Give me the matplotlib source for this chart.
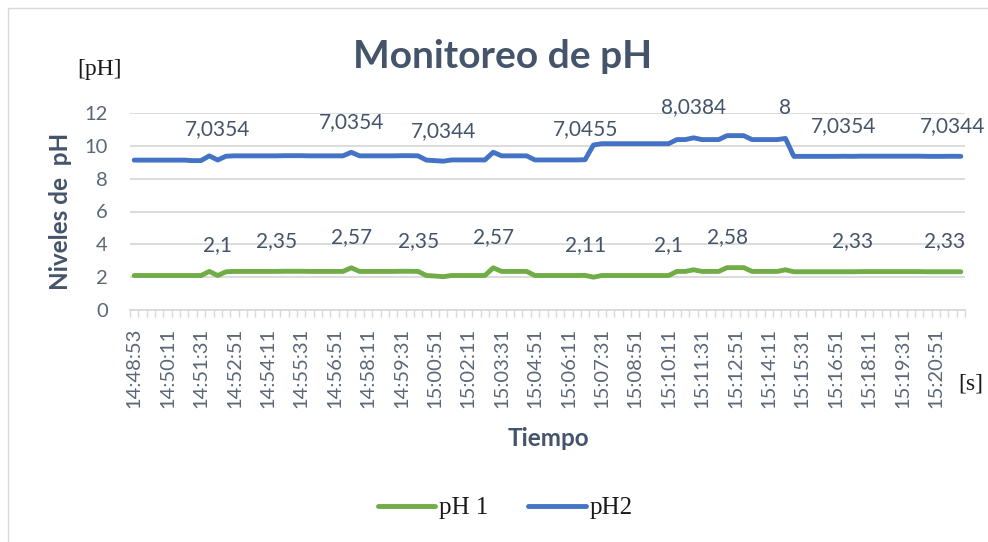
import numpy as np
import matplotlib.pyplot as plt
from matplotlib.lines import Line2D

# readings every 20 s (first one at 14:48:53), only every 4th time is labelled
tick_labels = [
    "14:48:53", "14:50:11", "14:51:31", "14:52:51", "14:54:11", "14:55:31",
    "14:56:51", "14:58:11", "14:59:31", "15:00:51", "15:02:11", "15:03:31",
    "15:04:51", "15:06:11", "15:07:31", "15:08:51", "15:10:11", "15:11:31",
    "15:12:51", "15:14:11", "15:15:31", "15:16:51", "15:18:11", "15:19:31",
    "15:20:51",
]

ph1 = [
    2.10, 2.10, 2.10, 2.10, 2.10, 2.10, 2.10, 2.10, 2.10, 2.35,
    2.10, 2.33, 2.35, 2.35, 2.35, 2.35, 2.35, 2.35, 2.36, 2.36,
    2.36, 2.35, 2.35, 2.35, 2.35, 2.35, 2.57, 2.35, 2.35, 2.35,
    2.35, 2.35, 2.36, 2.36, 2.35, 2.10, 2.07, 2.03, 2.10, 2.10,
    2.10, 2.10, 2.10, 2.57, 2.35, 2.35, 2.35, 2.35, 2.10, 2.10,
    2.10, 2.10, 2.10, 2.10, 2.11, 2.00, 2.10, 2.10, 2.10, 2.10,
    2.10, 2.10, 2.10, 2.10, 2.10, 2.35, 2.35, 2.45, 2.35, 2.35,
    2.35, 2.58, 2.58, 2.58, 2.35, 2.35, 2.35, 2.35, 2.45, 2.33,
    2.33, 2.33, 2.33, 2.33, 2.33, 2.33, 2.33, 2.34, 2.34, 2.34,
    2.34, 2.34, 2.34, 2.34, 2.34, 2.33, 2.33, 2.33, 2.33, 2.33,
]

ph2 = [
    7.03, 7.03, 7.03, 7.03, 7.03, 7.03, 7.03, 7.00, 7.00, 7.04,
    7.0354, 7.04, 7.04, 7.04, 7.04, 7.04, 7.04, 7.04, 7.04, 7.04,
    7.04, 7.04, 7.04, 7.04, 7.04, 7.04, 7.0354, 7.04, 7.04, 7.04,
    7.04, 7.04, 7.04, 7.04, 7.04, 7.03, 7.03, 7.0344, 7.04, 7.04,
    7.04, 7.04, 7.04, 7.04, 7.04, 7.04, 7.04, 7.04, 7.04, 7.04,
    7.04, 7.04, 7.04, 7.04, 7.0455, 8.05, 8.03, 8.03, 8.03, 8.03,
    8.03, 8.03, 8.03, 8.03, 8.03, 8.03, 8.03, 8.0384, 8.03, 8.03,
    8.03, 8.04, 8.04, 8.04, 8.03, 8.03, 8.03, 8.03, 8.00, 7.03,
    7.03, 7.03, 7.03, 7.03, 7.03, 7.0354, 7.03, 7.03, 7.03, 7.03,
    7.03, 7.03, 7.03, 7.03, 7.03, 7.03, 7.03, 7.03, 7.0344, 7.03,
]

# points that carry a value label
ph1_labelled = [10, 17, 26, 34, 43, 54, 64, 71, 86, 97]
ph2_labelled = [10, 26, 37, 54, 67, 78, 85, 98]

green = "#70AD47"
blue = "#4472C4"
slate = "#44546A"
tick_col = "#5B6676"
grid_col = "#D9D9D9"

plt.rcParams["font.family"] = ["Lato", "DejaVu Sans"]

W, H = 988, 542
fig = plt.figure(figsize=(W / 100, H / 100), dpi=100)
# chart frame, only the top and left edges fall inside the image
fig.add_artist(Line2D([8 / W, 8 / W, 1], [0, 1 - 8 / H, 1 - 8 / H],
                      transform=fig.transFigure, color=grid_col, lw=1))

ax = fig.add_axes([130 / W, 1 - 310 / H, 835 / W, 197 / H])

x = np.arange(len(ph1))
# stacked line: second series sits on top of the first
stacked = np.add(ph1, ph2)

ax.plot(x, ph1, color=green, lw=3.5, solid_joinstyle="round",
        solid_capstyle="round", zorder=3)
ax.plot(x, stacked, color=blue, lw=3.5, solid_joinstyle="round",
        solid_capstyle="round", zorder=3)


def fmt(v):
    return f"{v:g}".replace(".", ",")


for i in ph1_labelled:
    ax.annotate(fmt(ph1[i]), (x[i], ph1[i]), xytext=(0, 22),
                textcoords="offset points", ha="center", va="center",
                fontsize=15, color=slate, annotation_clip=False)
for i in ph2_labelled:
    ax.annotate(fmt(ph2[i]), (x[i], stacked[i]), xytext=(0, 22),
                textcoords="offset points", ha="center", va="center",
                fontsize=15, color=slate, annotation_clip=False)

ax.set_xlim(-0.5, len(ph1) - 0.5)
ax.set_ylim(0, 12)
ax.set_yticks(range(0, 13, 2))
ax.set_xticks(x[::4])
ax.set_xticklabels(tick_labels, rotation=90)
ax.set_xticks(np.arange(-0.5, len(ph1), 1), minor=True)

ax.tick_params(axis="y", length=0, pad=16, labelsize=14.5, labelcolor=tick_col)
ax.tick_params(axis="x", which="major", length=0, pad=13, labelsize=14.5,
               labelcolor=tick_col)
ax.tick_params(axis="x", which="minor", length=5, width=1, color=grid_col)

ax.grid(axis="y", color=grid_col, lw=1.3)
ax.set_axisbelow(True)
for s in ["left", "right", "top"]:
    ax.spines[s].set_visible(False)
ax.spines["bottom"].set_color(grid_col)
ax.spines["bottom"].set_linewidth(1.3)

fig.text(503 / W, 1 - 57 / H, "Monitoreo de pH", ha="center", va="center",
         fontsize=28, fontweight="bold", color=slate)
fig.text(60 / W, 1 - 211 / H, "Niveles de  pH", rotation=90, ha="center",
         va="center", fontsize=17.5, fontweight="bold", color=slate)
fig.text(548 / W, 1 - 438 / H, "Tiempo", ha="center", va="center",
         fontsize=17.5, fontweight="bold", color=slate)
fig.text(99 / W, 1 - 70 / H, "[pH]", ha="center", va="center",
         fontsize=17, family="Liberation Serif", color="#1a1a1a")
fig.text(971 / W, 1 - 384 / H, "[s]", ha="center", va="center",
         fontsize=17, family="Liberation Serif", color="#1a1a1a")

handles = [Line2D([], [], color=green, lw=3.5, solid_capstyle="round"),
           Line2D([], [], color=blue, lw=3.5, solid_capstyle="round")]
fig.legend(handles, ["pH 1", "pH2"], loc="center",
           bbox_to_anchor=(505 / W, 1 - 508 / H), ncol=2, frameon=False,
           prop={"family": "Liberation Serif", "size": 18},
           handlelength=2.3, handletextpad=0.15, columnspacing=1.6,
           labelcolor="#1a1a1a")

fig.savefig("out.png", dpi=100)
